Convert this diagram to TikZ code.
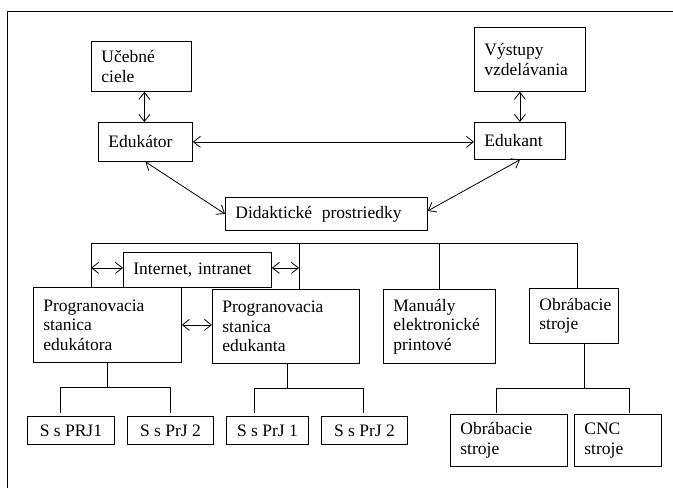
\documentclass[tikz,border=0pt]{standalone}
\usepackage{fontspec}
\setmainfont{Liberation Serif}
\usetikzlibrary{arrows.meta}
\begin{document}
\begin{tikzpicture}[x=1pt,y=-1pt,
  every path/.style={line width=0.8pt},
  >={Straight Barb[length=7pt,width=11pt]},
  box/.style={draw,anchor=north west,align=left,inner xsep=10pt,inner ysep=0pt,
    font=\fontsize{17.5}{19.5}\selectfont},
  sbox/.style={draw,anchor=north west,align=center,inner xsep=0pt,inner ysep=0pt,
    minimum height=28pt,font=\fontsize{17.5}{19.5}\selectfont},
  gapend/.style={shorten >=3pt}]
\useasboundingbox (0,0) rectangle (673,488);
% frame
\coordinate (fTL) at (7,11);
\coordinate (fTR) at (673,11);
\coordinate (fBL) at (7,488);
\draw (fTR) -- (fTL) -- (fBL);
% top boxes
\node[box,text width=80pt,minimum height=50pt] (uc) at (91,41) {Učebné\\ciele};
\node[box,text width=74pt,minimum height=39pt] (edr) at (98,122) {Edukátor};
\node[box,text width=182pt,minimum height=33pt] (did) at (225,197) {Didaktické\hspace{0.55em}prostriedky};
\node[box,text width=91pt,minimum height=64pt] (vy) at (474,27) {Výstupy\\vzdelávania};
\node[box,text width=71pt,minimum height=37pt] (edt) at (474,122) {Edukant};
% middle boxes
\node[box,text width=128pt,minimum height=35pt] (int) at (123,252) {Internet, intranet};
\node[box,text width=128pt,minimum height=75pt] (pe) at (33,287) {Progranovacia\\stanica\\edukátora};
\node[box,text width=127pt,minimum height=74pt] (pk) at (212,289) {Progranovacia\\stanica\\edukanta};
\node[box,text width=92pt,minimum height=74pt] (man) at (383,289) {Manuály\\elektronické\\printové};
\node[box,text width=69pt,minimum height=55pt] (ob) at (529,288) {Obrábacie\\stroje};
% bottom boxes
\node[sbox,minimum width=87pt] (s1) at (27,416) {S s PRJ1};
\node[sbox,minimum width=86pt] (s2) at (127,416) {S s PrJ 2};
\node[sbox,minimum width=82pt] (s3) at (226,416) {S s PrJ 1};
\node[sbox,minimum width=86pt] (s4) at (321,416) {S s PrJ 2};
\node[box,text width=97pt,minimum height=52pt] (o2) at (450,414) {Obrábacie\\stroje};
\node[box,text width=67pt,minimum height=52pt] (cnc) at (574,414) {CNC\\stroje};
% top arrows
\draw[<->] ([xshift=3pt]uc.south) -- ([xshift=3pt]uc.south |- edr.north);
\draw[<->] (edr.east) -- (edr.east -| edt.west);
\draw[<->] (edr.south) -- (did.west);
\draw[<->] (edt.south) -- ([yshift=3pt]did.east);
\draw[<->] (edt.north) -- (edt.north |- vy.south);
% bus
\coordinate (bL) at (91,243);
\coordinate (b2) at (299,243);
\coordinate (bR) at (577,243);
\draw (bL) -- (bR);
\draw (bL) -- (bL |- pe.north);
\draw (b2) -- (b2 |- pk.north);
\draw (man.north |- bL) -- (man.north);
\draw (bR) -- (bR |- ob.north);
\draw[<->] ([yshift=2pt]int.west -| bL) -- ([yshift=2pt]int.west);
\draw[<->] ([yshift=2pt]int.east) -- ([yshift=2pt]int.east -| b2);
\draw[<->] (pe.east) -- (pe.east -| pk.west);
% tree under pe
\coordinate (j1) at (107,387);
\coordinate (j1a) at (60,387);
\coordinate (j1b) at (170,387);
\draw (pe.south -| j1) -- (j1);
\draw (j1a) -- (j1b);
\draw[gapend] (j1a) -- (j1a |- s1.north);
\draw[gapend] (j1b) -- (j1b |- s2.north);
% tree under pk
\coordinate (j2) at (287,388);
\coordinate (j2a) at (254,388);
\coordinate (j2b) at (363,388);
\draw (pk.south -| j2) -- (j2);
\draw (j2a) -- (j2b);
\draw[gapend] (j2a) -- (j2a |- s3.north);
\draw[gapend] (j2b) -- (j2b |- s4.north);
% tree under ob
\coordinate (j3) at (584,388);
\coordinate (j3a) at (496,388);
\coordinate (j3b) at (629,388);
\draw (ob.south -| j3) -- (j3);
\draw (j3a) -- (j3b);
\draw[shorten >=1pt] (j3a) -- (j3a |- o2.north);
\draw[shorten >=1pt] (j3b) -- (j3b |- cnc.north);
\end{tikzpicture}
\end{document}
